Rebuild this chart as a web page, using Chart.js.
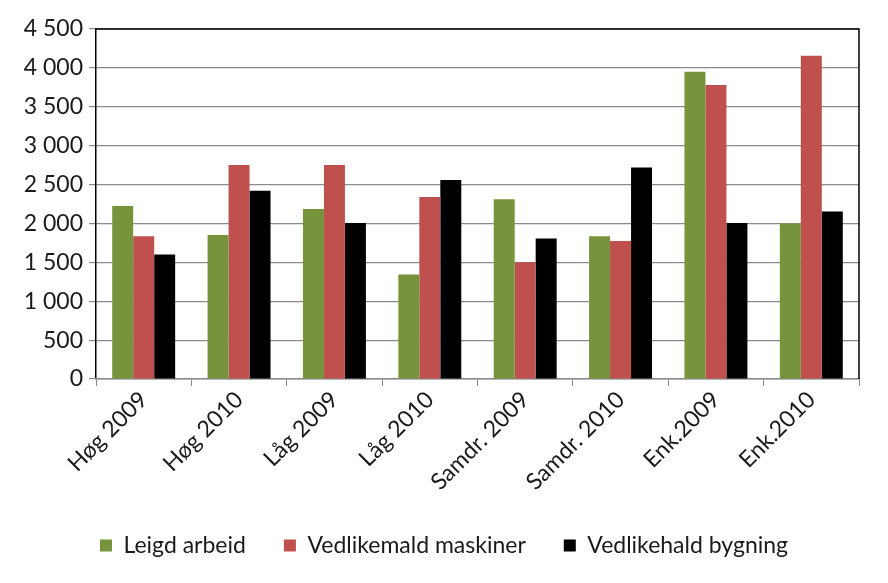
<!DOCTYPE html>
<html>
<head>
<meta charset="utf-8">
<script src="https://cdn.jsdelivr.net/npm/chart.js@4"></script>
<style>
  html, body { margin: 0; padding: 0; background: #fff; }
  #wrap { width: 888px; height: 583px; }
</style>
</head>
<body>
<div id="wrap"><canvas id="c" width="888" height="583"></canvas></div>
<script>
const categories = ['Høg 2009', 'Høg 2010', 'Låg 2009', 'Låg 2010', 'Samdr. 2009', 'Samdr. 2010', 'Enk.2009', 'Enk.2010']
const leigdArbeid = [2225, 1850, 2185, 1345, 2310, 1835, 3950, 2000]
const vedlikeMaskiner = [1835, 2750, 2750, 2340, 1500, 1775, 3780, 4155]
const vedlikeBygning = [1600, 2420, 2005, 2560, 1805, 2720, 2005, 2155]

// ramme rundt plottet (topp og høgre side)
const frame = {
  id: 'frame',
  afterDraw(chart) {
    const { ctx, chartArea: a } = chart
    ctx.save()
    ctx.strokeStyle = '#000'
    ctx.lineWidth = 1.5
    ctx.beginPath()
    ctx.moveTo(a.left, a.top)
    ctx.lineTo(a.right, a.top)
    ctx.lineTo(a.right, a.bottom)
    ctx.stroke()
    ctx.restore()
  }
}

const font = { family: 'Lato, "Open Sans", sans-serif', size: 23 }

new Chart(document.getElementById('c'), {
  type: 'bar',
  data: {
    labels: categories,
    datasets: [
      { label: 'Leigd arbeid', data: leigdArbeid, backgroundColor: '#77933C' },
      { label: 'Vedlikemald maskiner', data: vedlikeMaskiner, backgroundColor: '#C0504D' },
      { label: 'Vedlikehald bygning', data: vedlikeBygning, backgroundColor: '#000000' }
    ]
  },
  options: {
    responsive: false,
    animation: false,
    layout: { padding: { left: 0, right: 0, top: 29, bottom: 16 } },
    datasets: { bar: { barPercentage: 1, categoryPercentage: 0.66 } },
    scales: {
      y: {
        min: 0,
        max: 4500,
        ticks: {
          stepSize: 500,
          color: '#1a1a1a',
          font: font,
          padding: 6,
          callback: v => String(v).replace(/\B(?=(\d{3})+(?!\d))/g, ' ')
        },
        grid: { color: '#8a8a8a', lineWidth: 1.2, tickLength: 7 },
        border: { color: '#000', width: 1.5 },
        afterFit(scale) { scale.width = 96 }
      },
      // tom akse på høgre side, berre for marg
      yPad: {
        position: 'right',
        display: true,
        ticks: { display: false },
        grid: { display: false },
        border: { display: false },
        afterFit(scale) { scale.width = 29 }
      },
      x: {
        ticks: {
          color: '#1a1a1a',
          font: font,
          maxRotation: 45,
          minRotation: 45,
          padding: 0
        },
        grid: { offset: true, drawOnChartArea: false, color: '#8a8a8a', tickLength: 7 },
        border: { color: '#8a8a8a', width: 1.5 },
        afterFit(scale) { scale.height = 117 }
      }
    },
    plugins: {
      legend: {
        position: 'bottom',
        labels: {
          color: '#1a1a1a',
          font: font,
          boxWidth: 12,
          boxHeight: 12,
          padding: 38
        }
      },
      tooltip: { enabled: false }
    }
  },
  plugins: [frame]
})
</script>
</body>
</html>
